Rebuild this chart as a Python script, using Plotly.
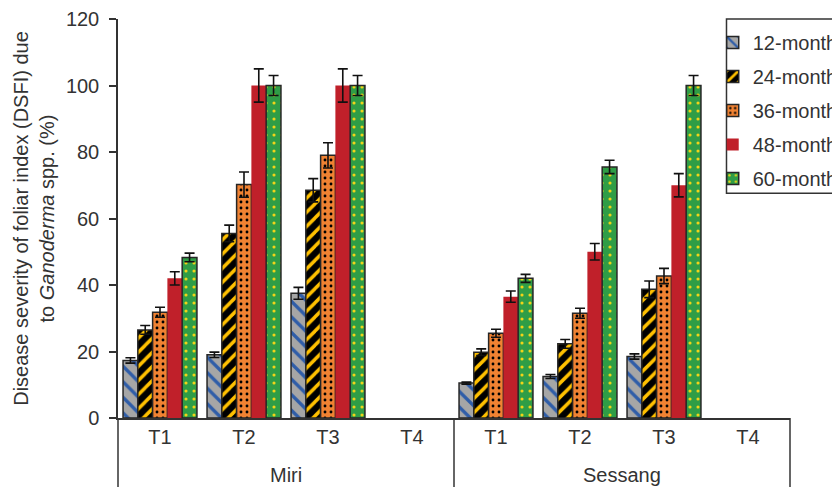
import plotly.graph_objects as go

sites = ["Miri"] * 4 + ["Sessang"] * 4
treatments = ["T1", "T2", "T3", "T4"] * 2
categories = [f"{s} {t}" for s, t in zip(sites, treatments)]
site_names = ["Miri", "Sessang"]

series_names = ["12-month", "24-month", "36-month", "48-month", "60-month"]
values = {
    "12-month": [17.3, 19.0, 37.5, None, 10.5, 12.5, 18.5, None],
    "24-month": [26.5, 55.5, 68.5, None, 19.8, 22.3, 38.7, None],
    "36-month": [31.8, 70.2, 79.0, None, 25.5, 31.5, 42.7, None],
    "48-month": [42.0, 100.0, 100.0, None, 36.5, 50.0, 70.0, None],
    "60-month": [48.3, 100.0, 100.0, None, 42.0, 75.5, 100.0, None],
}
errors = {
    "12-month": [0.8, 0.8, 1.8, None, 0.3, 0.6, 0.8, None],
    "24-month": [1.3, 2.5, 3.5, None, 1.0, 1.3, 2.5, None],
    "36-month": [1.5, 3.8, 3.8, None, 1.2, 1.5, 2.3, None],
    "48-month": [2.0, 5.0, 5.0, None, 1.7, 2.5, 3.5, None],
    "60-month": [1.3, 3.0, 3.0, None, 1.2, 2.0, 3.0, None],
}

styles = {
    "12-month": dict(bg="#A6A6A6", fg="#2F5DA8", shape="\\", size=11, sol=0.3, line=1.5),
    "24-month": dict(bg="#000000", fg="#FFC000", shape="/", size=10, sol=0.35, line=1.5),
    "36-month": dict(bg="#F08232", fg="#000000", shape=".", size=6, sol=0.18, line=1.5),
    "48-month": dict(bg="#C0202A", fg=None, shape="", size=8, sol=0.3, line=0),
    "60-month": dict(bg="#2F9D46", fg="#F2D418", shape=".", size=8, sol=0.12, line=1.5),
}

FONT = "Liberation Sans, Arial, sans-serif"
TXT = "#333333"
LINE = "#333333"

fig = go.Figure()
for name in series_names:
    st = styles[name]
    marker = dict(color=st["bg"], line=dict(color="#262626", width=st["line"]))
    if st["shape"]:
        marker["pattern"] = dict(shape=st["shape"], fgcolor=st["fg"], bgcolor=st["bg"],
                                 size=st["size"], solidity=st["sol"], fillmode="replace")
    fig.add_trace(go.Bar(
        name=name, x=categories, y=values[name],
        marker=marker, legendgroup=name,
        error_y=dict(type="data", array=errors[name], color="#111111", thickness=1.6, width=5),
    ))

# site labels below the treatment labels
for i, s in enumerate(site_names):
    fig.add_annotation(x=1.5 + 4 * i, xref="x", y=-0.143, yref="paper",
                       text=s, showarrow=False, yanchor="middle",
                       font=dict(size=20, color=TXT))

# group dividers below the x axis
for xp in [0.0, 0.5, 1.0]:
    fig.add_shape(type="line", xref="paper", yref="paper", x0=xp, x1=xp, y0=0, y1=-0.25,
                  line=dict(color=LINE, width=1.5))

# legend frame
fig.add_shape(type="rect", xref="paper", yref="paper", x0=0.9055, x1=1.2, y0=0.563, y1=1.0,
              line=dict(color=LINE, width=1.5), fillcolor="rgba(0,0,0,0)")

fig.update_layout(
    width=832, height=479,
    margin=dict(l=110, r=50, t=11, b=69, autoexpand=False),
    paper_bgcolor="white", plot_bgcolor="white",
    barmode="group", bargap=0.12, bargroupgap=0,
    font=dict(family=FONT, size=20, color=TXT),
    legend=dict(x=0.885, y=0.99, xanchor="left", yanchor="top",
                borderwidth=0, bgcolor="rgba(0,0,0,0)",
                font=dict(size=20, color=TXT), tracegroupgap=5,
                traceorder="grouped"),
    showlegend=True,
)
fig.update_yaxes(range=[0, 120], dtick=20, showgrid=False, zeroline=False,
                 showline=True, linecolor=LINE, linewidth=1.5,
                 ticks="outside", ticklen=7, tickwidth=1.5, tickcolor=LINE,
                 ticklabelstandoff=6,
                 title=dict(text="Disease severity of foliar index (DSFI) due<br>to <i>Ganoderma</i> spp. (%)",
                            font=dict(size=20, color=TXT), standoff=6))
fig.update_xaxes(type="category", showgrid=False, showline=True, linecolor=LINE,
                 linewidth=1.5, ticks="", tickvals=categories, ticktext=treatments,
                 range=[-0.5, 7.5])

fig.write_html("out.html")
